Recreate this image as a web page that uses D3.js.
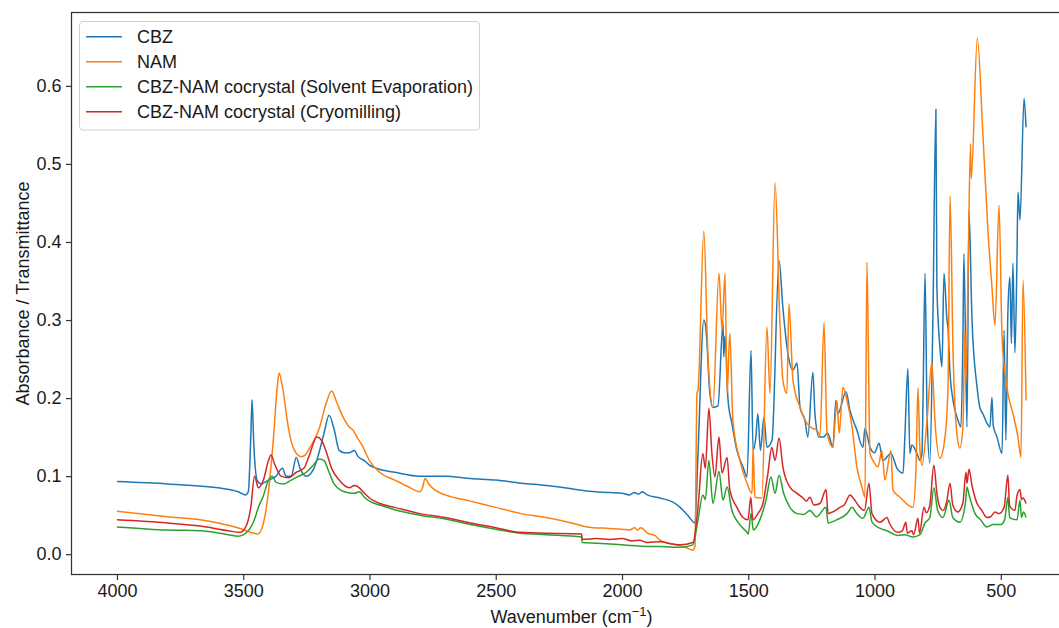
<!DOCTYPE html>
<html>
<head>
<meta charset="utf-8">
<script src="https://cdn.jsdelivr.net/npm/d3@7"></script>
<style>
  html, body { margin: 0; padding: 0; background: #fff; }
  svg { display: block; font-family: "Liberation Sans", Arial, sans-serif; }
</style>
</head>
<body>
<svg id="chart" width="1059" height="628"></svg>
<script>
// FTIR spectra: [wavenumber (cm^-1), absorbance]
const cbzSpectrum = [
  [4000,0.093],[3800,0.090],[3600,0.085],[3520,0.080],[3490,0.076],[3480,0.080],[3470,0.150],[3465,0.198],
  [3458,0.140],[3445,0.095],[3430,0.090],[3400,0.095],[3370,0.100],[3345,0.110],[3330,0.100],[3310,0.100],
  [3290,0.124],[3275,0.110],[3250,0.100],[3220,0.110],[3200,0.130],[3180,0.155],[3160,0.178],[3140,0.160],
  [3120,0.133],[3100,0.130],[3080,0.130],[3060,0.133],[3045,0.125],[3020,0.120],[3000,0.114],[2950,0.108],
  [2900,0.105],[2800,0.100],[2700,0.100],[2600,0.097],[2500,0.095],[2400,0.091],[2300,0.088],[2200,0.084],
  [2140,0.081],[2050,0.079],[2000,0.078],[1970,0.076],[1950,0.079],[1935,0.077],[1920,0.080],[1900,0.076],
  [1850,0.072],[1800,0.067],[1770,0.060],[1740,0.050],[1711,0.040],[1699,0.129],[1676,0.300],[1668,0.290],
  [1652,0.206],[1640,0.188],[1620,0.190],[1600,0.296],[1597,0.253],[1592,0.280],[1580,0.197],[1565,0.168],
  [1545,0.133],[1521,0.112],[1505,0.099],[1489,0.261],[1481,0.133],[1470,0.150],[1462,0.180],[1452,0.133],
  [1438,0.175],[1426,0.137],[1406,0.146],[1378,0.376],[1363,0.316],[1343,0.257],[1323,0.236],[1307,0.245],
  [1295,0.188],[1276,0.172],[1264,0.150],[1244,0.233],[1236,0.180],[1220,0.150],[1204,0.150],[1185,0.155],
  [1165,0.137],[1153,0.197],[1145,0.180],[1113,0.208],[1097,0.184],[1070,0.159],[1046,0.137],[1038,0.161],
  [1018,0.137],[1000,0.130],[982,0.142],[967,0.120],[935,0.129],[911,0.110],[887,0.104],[880,0.150],
  [868,0.238],[860,0.129],[852,0.140],[832,0.129],[820,0.120],[812,0.129],[808,0.197],[800,0.360],
  [792,0.180],[781,0.117],[769,0.300],[757,0.570],[753,0.342],[741,0.265],[733,0.240],[725,0.360],
  [713,0.300],[709,0.290],[701,0.232],[689,0.197],[670,0.172],[658,0.163],[650,0.278],[646,0.385],
  [634,0.163],[626,0.440],[614,0.300],[594,0.214],[583,0.188],[571,0.180],[555,0.168],[543,0.163],
  [535,0.201],[530,0.165],[515,0.150],[495,0.129],[487,0.287],[480,0.146],[472,0.309],[464,0.355],
  [458,0.270],[452,0.373],[444,0.258],[436,0.377],[432,0.464],[424,0.428],[408,0.584],[400,0.547]
];

const namSpectrum = [
  [4000,0.055],[3800,0.048],[3670,0.044],[3600,0.040],[3513,0.033],[3470,0.028],[3442,0.026],[3420,0.040],
  [3400,0.080],[3380,0.150],[3365,0.215],[3358,0.232],[3345,0.215],[3320,0.160],[3300,0.135],[3270,0.125],
  [3255,0.127],[3230,0.140],[3200,0.160],[3170,0.195],[3150,0.209],[3130,0.195],[3105,0.176],[3080,0.163],
  [3065,0.159],[3050,0.150],[3030,0.140],[3000,0.120],[2960,0.105],[2900,0.095],[2850,0.087],[2800,0.080],
  [2790,0.085],[2780,0.097],[2765,0.090],[2740,0.082],[2700,0.076],[2600,0.068],[2500,0.060],[2400,0.052],
  [2300,0.047],[2200,0.040],[2140,0.035],[2050,0.033],[2000,0.032],[1970,0.031],[1950,0.034],[1940,0.031],
  [1925,0.034],[1900,0.027],[1870,0.024],[1850,0.018],[1800,0.013],[1770,0.011],[1743,0.008],[1720,0.005],
  [1711,0.010],[1703,0.207],[1699,0.210],
  [1676,0.414],[1660,0.257],[1640,0.188],[1616,0.360],[1604,0.287],[1592,0.360],[1584,0.206],[1573,0.283],
  [1561,0.172],[1533,0.120],[1505,0.091],[1485,0.078],[1481,0.137],[1474,0.073],[1446,0.072],[1426,0.291],
  [1414,0.206],[1394,0.476],[1375,0.300],[1363,0.223],[1347,0.206],[1339,0.321],[1323,0.223],[1295,0.188],
  [1268,0.168],[1244,0.161],[1230,0.160],[1216,0.152],[1200,0.297],[1188,0.155],[1165,0.137],[1149,0.197],
  [1140,0.155],[1125,0.214],[1109,0.197],[1089,0.163],[1070,0.112],[1050,0.086],[1038,0.073],[1030,0.374],
  [1018,0.129],[1006,0.120],[986,0.112],[971,0.133],[959,0.095],[935,0.133],[927,0.082],[899,0.073],
  [848,0.060],[836,0.108],[828,0.213],[820,0.133],[812,0.114],[792,0.172],[773,0.246],[761,0.172],
  [741,0.123],[721,0.150],[709,0.214],[701,0.459],[689,0.258],[674,0.155],[662,0.136],[650,0.163],
  [642,0.287],[638,0.220],[630,0.350],[620,0.526],[617,0.481],[593,0.661],[571,0.539],[551,0.415],
  [535,0.342],[523,0.293],[507,0.447],[495,0.278],[476,0.214],[452,0.180],[432,0.150],[420,0.124],
  [412,0.351],[400,0.197]
];

const cocrystalSE = [
  [4000,0.035],[3800,0.031],[3670,0.030],[3560,0.025],[3520,0.023],[3480,0.030],[3455,0.045],[3440,0.060],
  [3420,0.075],[3400,0.095],[3385,0.100],[3370,0.092],[3340,0.090],[3310,0.095],[3280,0.100],[3250,0.105],
  [3220,0.115],[3200,0.122],[3180,0.120],[3160,0.105],[3140,0.090],[3100,0.080],[3060,0.078],[3040,0.080],
  [3020,0.073],[3000,0.068],[2950,0.062],[2900,0.057],[2800,0.050],[2700,0.045],[2600,0.038],[2500,0.032],
  [2404,0.027],[2300,0.025],[2160,0.022],[2158,0.015],[2100,0.014],[2050,0.013],[2000,0.012],[1960,0.011],
  [1900,0.010],[1850,0.010],[1800,0.009],
  [1770,0.009],[1719,0.012],[1699,0.044],[1680,0.076],[1670,0.070],[1656,0.120],[1640,0.065],[1616,0.106],
  [1600,0.069],[1584,0.086],[1565,0.056],[1541,0.041],[1505,0.028],[1500,0.026],[1489,0.052],[1480,0.031],
  [1454,0.044],[1430,0.069],[1410,0.099],[1394,0.078],[1378,0.101],[1360,0.078],[1335,0.060],[1307,0.052],
  [1280,0.051],[1256,0.056],[1230,0.048],[1192,0.060],[1184,0.040],[1150,0.044],[1109,0.052],[1089,0.060],
  [1070,0.052],[1046,0.046],[1022,0.060],[1010,0.041],[978,0.033],[950,0.030],[907,0.024],[880,0.025],
  [848,0.022],[820,0.025],[800,0.040],[781,0.047],[765,0.085],[750,0.056],[729,0.047],[705,0.069],
  [690,0.047],[662,0.041],[640,0.066],[634,0.086],[625,0.075],[602,0.052],[580,0.044],[555,0.035],
  [530,0.038],[500,0.038],[485,0.044],[472,0.073],[465,0.047],[436,0.044],[424,0.069],[418,0.047],
  [410,0.054],[400,0.047]
];

const cocrystalCryo = [
  [4000,0.044],[3800,0.040],[3670,0.036],[3560,0.030],[3513,0.028],[3490,0.035],[3470,0.060],[3455,0.100],
  [3440,0.085],[3420,0.095],[3400,0.120],[3390,0.127],[3375,0.115],[3350,0.100],[3320,0.098],[3290,0.105],
  [3260,0.110],[3240,0.125],[3208,0.150],[3190,0.146],[3170,0.130],[3150,0.110],[3120,0.095],[3080,0.085],
  [3060,0.088],[3040,0.085],[3020,0.078],[3000,0.072],[2950,0.064],[2900,0.060],[2800,0.052],[2700,0.047],
  [2600,0.040],[2500,0.034],[2404,0.028],[2300,0.027],[2160,0.026],[2158,0.019],[2100,0.020],[2050,0.019],
  [2000,0.020],[1960,0.017],[1930,0.018],[1900,0.015],[1850,0.016],[1800,0.013],
  [1770,0.012],[1719,0.015],[1699,0.060],[1680,0.129],[1670,0.110],[1656,0.187],
  [1644,0.129],[1632,0.099],[1616,0.150],[1604,0.104],[1584,0.124],[1573,0.082],[1545,0.060],[1521,0.047],
  [1501,0.044],[1490,0.073],[1482,0.044],[1462,0.052],[1442,0.065],[1422,0.104],[1407,0.137],[1394,0.120],
  [1378,0.149],[1363,0.112],[1335,0.086],[1307,0.078],[1283,0.072],[1270,0.068],[1256,0.073],[1240,0.063],
  [1216,0.065],[1192,0.083],[1184,0.052],[1160,0.055],[1137,0.060],[1120,0.063],[1097,0.076],[1080,0.070],
  [1058,0.060],[1040,0.056],[1022,0.091],[1010,0.052],[978,0.041],[951,0.047],[940,0.039],[907,0.028],
  [890,0.030],[876,0.041],[870,0.027],[852,0.030],[845,0.025],[828,0.046],[822,0.027],[804,0.060],
  [795,0.053],[781,0.063],[765,0.114],[753,0.078],[741,0.060],[729,0.056],[715,0.066],[701,0.091],
  [690,0.063],[670,0.054],[650,0.066],[638,0.105],[634,0.091],[626,0.109],[614,0.088],[594,0.065],
  [575,0.056],[555,0.047],[540,0.048],[523,0.054],[507,0.052],[487,0.060],[472,0.101],[465,0.062],
  [444,0.056],[436,0.075],[424,0.083],[418,0.070],[412,0.072],[400,0.065]
];

const seriesNames = ["CBZ", "NAM", "CBZ-NAM cocrystal (Solvent Evaporation)", "CBZ-NAM cocrystal (Cryomilling)"];
const seriesColors = ["#1f77b4", "#ff7f0e", "#2ca02c", "#d62728"];
const seriesData = [cbzSpectrum, namSpectrum, cocrystalSE, cocrystalCryo];

const xTickValues = [4000, 3500, 3000, 2500, 2000, 1500, 1000, 500];
const yTickValues = [0.0, 0.1, 0.2, 0.3, 0.4, 0.5, 0.6];
const xDomain = [4180, 220];
const yDomain = [-0.026, 0.694];

const xLabel = "Wavenumber (cm";
const yLabel = "Absorbance / Transmittance";

// plot area
const plot = { left: 71.5, right: 1071.5, top: 12.5, bottom: 574.5 };
const fontSize = 18;
const axisColor = "#333";
const textColor = "#1a1a1a";

const svg = d3.select("#chart");

const x = d3.scaleLinear().domain(xDomain).range([plot.left, plot.right]);
const y = d3.scaleLinear().domain(yDomain).range([plot.bottom, plot.top]);

svg.append("defs").append("clipPath").attr("id", "plotClip")
  .append("rect")
  .attr("x", plot.left).attr("y", plot.top)
  .attr("width", plot.right - plot.left).attr("height", plot.bottom - plot.top);

// spectra
const line = d3.line().curve(d3.curveMonotoneX).x(d => x(d[0])).y(d => y(d[1]));
const lines = svg.append("g").attr("clip-path", "url(#plotClip)");
seriesData.forEach((data, i) => {
  lines.append("path")
    .datum(data)
    .attr("d", line)
    .attr("fill", "none")
    .attr("stroke", seriesColors[i])
    .attr("stroke-width", 1.5)
    .attr("stroke-linejoin", "round");
});

// axes
const xAxis = d3.axisBottom(x).tickValues(xTickValues).tickFormat(d3.format("d")).tickSize(5.5).tickPadding(4);
const yAxis = d3.axisLeft(y).tickValues(yTickValues).tickFormat(d3.format(".1f")).tickSize(5.5).tickPadding(4.5);

const gx = svg.append("g").attr("transform", `translate(0,${plot.bottom})`).call(xAxis);
const gy = svg.append("g").attr("transform", `translate(${plot.left},0)`).call(yAxis);

[gx, gy].forEach(g => {
  g.select(".domain").remove();
  g.selectAll(".tick line").attr("stroke", axisColor).attr("stroke-width", 1.2);
  g.selectAll(".tick text").attr("fill", textColor).attr("font-size", fontSize)
    .attr("font-family", "'Liberation Sans', Arial, sans-serif");
});

// frame
svg.append("rect")
  .attr("x", plot.left).attr("y", plot.top)
  .attr("width", plot.right - plot.left).attr("height", plot.bottom - plot.top)
  .attr("fill", "none").attr("stroke", axisColor).attr("stroke-width", 1.25);

// axis titles
const xt = svg.append("text")
  .attr("x", (plot.left + plot.right) / 2).attr("y", 623)
  .attr("text-anchor", "middle").attr("font-size", fontSize).attr("fill", textColor);
xt.append("tspan").text(xLabel);
xt.append("tspan").attr("baseline-shift", "super").attr("font-size", fontSize * 0.72).text("\u22121");
xt.append("tspan").text(")");

svg.append("text")
  .attr("transform", `translate(29,${(plot.top + plot.bottom) / 2}) rotate(-90)`)
  .attr("text-anchor", "middle").attr("font-size", fontSize).attr("fill", textColor)
  .text(yLabel);

// legend
const legend = svg.append("g");
legend.append("rect")
  .attr("x", 79.5).attr("y", 21.5).attr("width", 400).attr("height", 108.5)
  .attr("rx", 3.5).attr("fill", "#fff").attr("fill-opacity", 0.8)
  .attr("stroke", "#d0d0d0").attr("stroke-width", 1);
seriesNames.forEach((name, i) => {
  const cy = 36.7 + i * 25;
  legend.append("line")
    .attr("x1", 86).attr("x2", 122).attr("y1", cy).attr("y2", cy)
    .attr("stroke", seriesColors[i]).attr("stroke-width", 1.5);
  legend.append("text")
    .attr("x", 137).attr("y", cy).attr("dy", "0.36em")
    .attr("font-size", fontSize).attr("fill", textColor)
    .text(name);
});
</script>
</body>
</html>
